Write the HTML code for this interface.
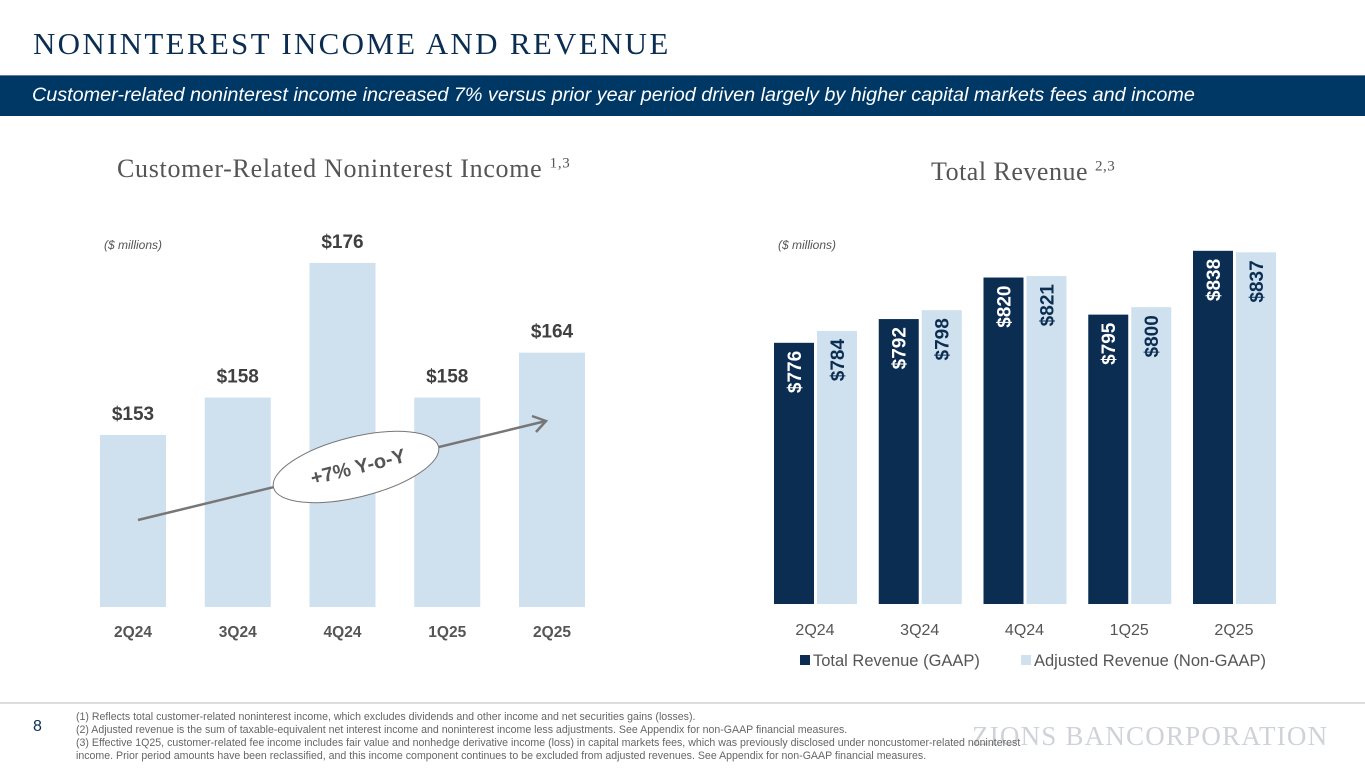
<!DOCTYPE html>
<html><head><meta charset="utf-8"><style>
body{margin:0;width:1365px;height:768px;overflow:hidden;background:#fff;font-family:"Liberation Sans",Arial,sans-serif;position:relative}
.abs{position:absolute}
</style></head><body>
<div class="abs" style="left:33px;top:26px;font-family:'Liberation Serif',serif;font-size:31px;color:#0b2d52;letter-spacing:2.3px;white-space:nowrap">NONINTEREST INCOME AND REVENUE</div>
<div class="abs" style="left:0;top:75px;width:1365px;height:40px;background:#003865;border-top:1px solid #5b7fa3"></div>
<div class="abs" style="left:32px;top:84px;font-size:19.8px;font-style:italic;color:#fff;white-space:nowrap">Customer-related noninterest income increased 7% versus prior year period driven largely by higher capital markets fees and income</div>
<div class="abs" style="left:117px;top:154px;font-family:'Liberation Serif',serif;font-size:26px;letter-spacing:0.7px;color:#555;white-space:nowrap">Customer-Related Noninterest Income <sup style="font-size:15px">1,3</sup></div>
<div class="abs" style="left:931px;top:157px;font-family:'Liberation Serif',serif;font-size:26px;letter-spacing:0.5px;color:#555;white-space:nowrap">Total Revenue <sup style="font-size:15px">2,3</sup></div>
<div class="abs" style="left:104px;top:238px;font-size:12px;font-style:italic;color:#555">($ millions)</div>
<div class="abs" style="left:778px;top:238px;font-size:12px;font-style:italic;color:#555">($ millions)</div>
<svg id="chart" class="abs" style="left:0;top:0" width="1365" height="768"></svg>
<div class="abs" style="left:0;top:702px;width:1365px;height:2px;background:#ddd"></div>
<div class="abs" style="left:33px;top:718px;font-size:16px;color:#0b2d52">8</div>
<div class="abs" style="left:972px;top:721px;font-family:'Liberation Serif',serif;font-size:27px;color:#cfd3d8;letter-spacing:1.2px;white-space:nowrap">ZIONS BANCORPORATION</div>
<div class="abs" style="left:76px;top:711px;font-size:10.6px;line-height:13px;color:#666;white-space:nowrap">(1) Reflects total customer-related noninterest income, which excludes dividends and other income and net securities gains (losses).<br>(2) Adjusted revenue is the sum of taxable-equivalent net interest income and noninterest income less adjustments. See Appendix for non-GAAP financial measures.<br>(3) Effective 1Q25, customer-related fee income includes fair value and nonhedge derivative income (loss) in capital markets fees, which was previously disclosed under noncustomer-related noninterest<br>income. Prior period amounts have been reclassified, and this income component continues to be excluded from adjusted revenues. See Appendix for non-GAAP financial measures.</div>
<script>
const quarters=["2Q24","3Q24","4Q24","1Q25","2Q25"];
const custIncome=[153,158,176,158,164];
const gaapRevenue=[776,792,820,795,838];
const adjRevenue=[784,798,821,800,837];
const svg=document.getElementById('chart');
const NS='http://www.w3.org/2000/svg';
function mk(t,a,txt){const e=document.createElementNS(NS,t);for(const k in a)e.setAttribute(k,a[k]);if(txt!==undefined)e.textContent=txt;svg.appendChild(e);return e;}
// left chart
const lBase=607,lMin=130,lK=7.48;
const ly=v=>lBase-(v-lMin)*lK;
const lx=i=>100+i*104.75;
quarters.forEach((q,i)=>{
 const r=mk('rect',{x:lx(i),y:ly(custIncome[i]),width:66,height:lBase-ly(custIncome[i]),fill:'#cfe0ef'});
 
 
 const t=mk('text',{x:lx(i)+33,y:ly(custIncome[i])-15,'text-anchor':'middle','font-size':19,'font-weight':'bold',fill:'#404040','font-family':'Liberation Sans'},'$'+custIncome[i]);
 
 
 const c=mk('text',{x:lx(i)+33,y:637,'text-anchor':'middle','font-size':15.5,'font-weight':'bold',fill:'#555','font-family':'Liberation Sans'},q);
 
 
});
const ar=mk('line',{x1:138,y1:520,x2:546,y2:421,stroke:'#777','stroke-width':2.5});


const ah=mk('polyline',{points:'532,416 546,421 536,432',fill:'none',stroke:'#777','stroke-width':2.5});


const el=mk('ellipse',{cx:356,cy:467,rx:85,ry:30,fill:'#fff',stroke:'#777','stroke-width':1,transform:'rotate(-14 356 467)'});


const yt=mk('text',{x:358,y:474,'text-anchor':'middle','font-size':20,'font-weight':'bold',fill:'#555','font-family':'Liberation Sans',transform:'rotate(-14 356 467)'},'+7% Y-o-Y');


// right chart
const rBase=604,rMin=600,rK=1.484;
const ry=v=>rBase-(v-rMin)*rK;
const rx=i=>774+i*104.75;
function rbar(i,v,off,fill,txtFill,nm){
 const r=mk('rect',{x:rx(i)+off,y:ry(v),width:40,height:rBase-ry(v),fill:fill});
 
 
 const tx=rx(i)+off+20,ty=ry(v)+8;
 const t=mk('text',{x:tx,y:ty,'text-anchor':'end','font-size':19,'font-weight':'bold',fill:txtFill,'font-family':'Liberation Sans',transform:`rotate(-90 ${tx} ${ty}) translate(0 7)`},'$'+v);
 
 
}
quarters.forEach((q,i)=>{
 rbar(i,gaapRevenue[i],0,'#0b2d52','#fff','gaap-bar-'+q.toLowerCase());
 rbar(i,adjRevenue[i],43,'#cfe0ef','#0b2d52','adjusted-bar-'+q.toLowerCase());
 const c=mk('text',{x:rx(i)+41,y:635,'text-anchor':'middle','font-size':16,fill:'#555','font-family':'Liberation Sans'},q);
 
 
});
const lg1=mk('rect',{x:800,y:655,width:10,height:10,fill:'#0b2d52'});


const lt1=mk('text',{x:813,y:666,'font-size':16.5,fill:'#555','font-family':'Liberation Sans'},'Total Revenue (GAAP)');


const lg2=mk('rect',{x:1021,y:655,width:10,height:10,fill:'#cfe0ef'});


const lt2=mk('text',{x:1034,y:666,'font-size':16.5,fill:'#555','font-family':'Liberation Sans'},'Adjusted Revenue (Non-GAAP)');


</script>
</body></html>
